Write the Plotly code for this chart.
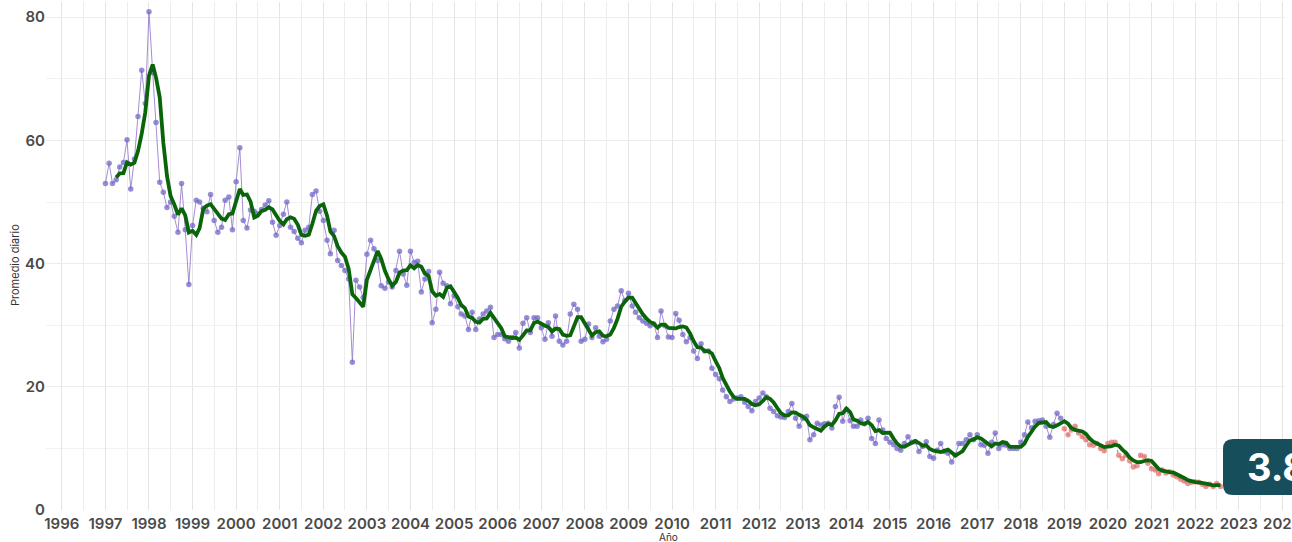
import pandas as pd
import plotly.graph_objects as go

# ---- data (monthly daily-average values) ----
start_purple = "1997-01-01"
start_red = "2019-01-01"

purple_1997_2001 = [
    53.0, 56.3, 53.0, 53.6, 55.7, 56.4, 60.1, 52.1, 57.0, 63.9, 71.4, 66.0,
    80.9, 71.0, 62.9, 53.2, 51.6, 49.1, 50.0, 47.7, 45.1, 53.0, 45.5, 36.6,
    46.2, 50.3, 50.0, 49.0, 48.4, 51.2, 47.0, 45.1, 45.9, 50.3, 50.8, 45.5,
    53.3, 58.8, 47.0, 45.8, 48.7, 48.5, 48.1, 48.8, 49.5, 50.2, 46.7, 44.6,
    46.2, 48.0, 50.0, 45.9, 45.2, 44.1, 43.4, 45.4, 45.9, 51.2, 51.8, 48.5,
]
purple_2002_2006 = [
    47.0, 43.8, 41.6, 45.4, 40.5, 39.7, 38.9, 37.5, 24.0, 37.3, 36.2, 34.5,
    41.5, 43.8, 42.4, 40.5, 36.4, 36.0, 37.0, 36.2, 38.9, 42.0, 38.3, 36.5,
    42.0, 40.2, 40.4, 35.4, 37.5, 38.7, 30.4, 32.6, 38.6, 36.8, 36.4, 33.5,
    34.8, 33.0, 31.8, 31.5, 29.3, 32.1, 29.3, 31.0, 31.8, 32.3, 32.9, 28.0,
    28.5, 28.5, 27.8, 27.4, 28.0, 28.8, 26.3, 30.3, 31.2, 28.8, 31.2, 31.2,
]
purple_2007_2011 = [
    29.6, 27.7, 30.4, 28.2, 31.5, 27.4, 26.8, 27.4, 31.8, 33.4, 32.6, 27.4,
    27.7, 30.2, 28.0, 29.6, 28.2, 27.3, 27.7, 30.7, 32.6, 33.1, 35.6, 34.0,
    35.2, 33.1, 32.1, 31.2, 30.7, 30.3, 29.9, 30.2, 28.0, 32.3, 29.9, 28.1,
    28.0, 31.9, 30.8, 28.5, 27.3, 28.0, 25.8, 24.6, 27.0, 25.8, 25.8, 23.0,
    22.0, 21.3, 19.5, 18.4, 17.6, 18.0, 18.2, 18.4, 17.5, 16.8, 16.1, 17.6,
]
purple_2012_2016 = [
    18.2, 19.0, 18.4, 16.5, 16.0, 15.3, 15.1, 15.0, 16.0, 17.3, 14.9, 13.6,
    14.9, 15.2, 11.4, 12.2, 14.1, 13.8, 14.0, 14.1, 13.3, 16.8, 18.3, 14.4,
    16.3, 14.5, 13.6, 13.6, 14.6, 14.0, 14.9, 11.6, 10.8, 14.6, 13.0, 11.6,
    11.0, 10.6, 10.0, 9.7, 10.8, 11.9, 11.0, 11.1, 9.5, 10.3, 11.1, 8.7,
    8.4, 9.7, 10.8, 9.5, 9.2, 7.8, 8.9, 10.8, 10.8, 11.4, 12.2, 11.4,
]
purple_2017_2018 = [
    12.2, 10.6, 10.5, 9.2, 11.0, 12.5, 10.0, 10.6, 10.5, 10.0, 10.0, 10.0,
    11.0, 12.2, 14.3, 13.3, 14.4, 14.5, 14.6, 13.6, 11.8, 13.9, 15.7, 14.9,
]
red_2019_2022 = [
    13.2, 12.2, 13.0, 13.6, 12.5, 11.9, 11.4, 10.6, 10.5, 10.8, 10.0, 9.6,
    10.8, 11.0, 11.0, 8.9, 8.3, 8.9, 8.0, 7.0, 7.2, 8.9, 8.7, 7.6,
    6.7, 6.5, 5.9, 6.5, 6.0, 6.2, 5.7, 5.4, 5.0, 4.7, 4.3, 4.5,
    4.6, 4.5, 4.2, 3.8, 4.2, 3.8, 4.3, 3.8,
]
year_ticks_start = "1996-01-01"
last_label = "3.8"
y_title = "Promedio diario"
x_title = "Año"
smooth_window = 4

purple_vals = (purple_1997_2001 + purple_2002_2006 + purple_2007_2011
               + purple_2012_2016 + purple_2017_2018)
purple_dates = pd.date_range(start_purple, periods=len(purple_vals), freq="MS")
red_dates = pd.date_range(start_red, periods=len(red_2019_2022), freq="MS")

all_series = pd.concat([pd.Series(purple_vals, index=purple_dates),
                        pd.Series(red_2019_2022, index=red_dates)])
smooth = all_series.rolling(smooth_window).mean().dropna()

# ---- layout geometry (pixels) ----
W, H = 1292, 542
ML, MR, MT, MB = 46, 7, 2, 32
PW, PH = W - ML - MR, H - MT - MB


def px(xp):
    return (xp - ML) / PW


def py(yp):
    return (H - MB - yp) / PH


fig = go.Figure()
fig.add_trace(go.Scatter(
    x=purple_dates, y=purple_vals, mode="lines+markers",
    line=dict(color="rgba(150,120,205,0.85)", width=1),
    marker=dict(color="rgba(115,105,200,0.75)", size=5.5),
    showlegend=False, hoverinfo="skip"))
fig.add_trace(go.Scatter(
    x=red_dates, y=red_2019_2022, mode="lines+markers",
    line=dict(color="rgba(215,95,95,0.8)", width=1.2, dash="dot"),
    marker=dict(color="rgba(225,115,115,0.75)", size=5.5),
    showlegend=False, hoverinfo="skip"))
fig.add_trace(go.Scatter(
    x=smooth.index, y=smooth.values, mode="lines",
    line=dict(color="#0a650a", width=3.8),
    showlegend=False, hoverinfo="skip"))

# rounded label box (extends past the right edge, as in the reference)
x0, x1, y0, y1, r = 1223, 1345, 439, 495, 10
rx, ry = r / PW, r / PH
X0, X1, Y0, Y1 = px(x0), px(x1), py(y1), py(y0)
path = (f"M {X0+rx},{Y1} L {X1-rx},{Y1} Q {X1},{Y1} {X1},{Y1-ry} "
        f"L {X1},{Y0+ry} Q {X1},{Y0} {X1-rx},{Y0} L {X0+rx},{Y0} "
        f"Q {X0},{Y0} {X0},{Y0+ry} L {X0},{Y1-ry} Q {X0},{Y1} {X0+rx},{Y1} Z")
fig.add_shape(type="path", path=path, xref="paper", yref="paper",
              fillcolor="#164e5b", line=dict(width=0), layer="above")

fig.add_annotation(text=f"<b>{last_label}</b>", xref="paper", yref="paper",
                   x=px(1245), y=py(467), xanchor="left", yanchor="middle",
                   showarrow=False,
                   font=dict(family="Inter, Roboto, sans-serif", size=38, color="white"))
fig.add_annotation(text=y_title, xref="paper", yref="paper",
                   x=px(15), y=py(265), textangle=-90, showarrow=False,
                   xanchor="center", yanchor="middle",
                   font=dict(family="Inter, Roboto, sans-serif", size=11, color="#333"))
fig.add_annotation(text=x_title, xref="paper", yref="paper",
                   x=px(668), y=py(536.5), showarrow=False,
                   xanchor="center", yanchor="middle",
                   font=dict(family="Inter, Roboto, sans-serif", size=10, color="#333"))

tickfont = dict(family="Inter, Roboto, sans-serif", size=15, color="#4a4a4a", weight=600)

fig.update_layout(
    width=W, height=H,
    margin=dict(l=ML, r=MR, t=MT, b=MB, pad=0),
    plot_bgcolor="white", paper_bgcolor="white",
    showlegend=False,
    xaxis=dict(
        type="date",
        range=["1995-08-22", "2024-01-24"],
        tick0=year_ticks_start, dtick="M12", tickformat="%Y",
        showgrid=True, gridcolor="#e4e4e4", gridwidth=1,
        minor=dict(dtick="M6", showgrid=True, gridcolor="#ededed", gridwidth=1),
        zeroline=False, showline=False, ticks="",
        tickfont=tickfont, automargin=False,
        ticklabeloverflow="allow", ticklabelstandoff=3,
    ),
    yaxis=dict(
        range=[0, 82.47],
        tick0=0, dtick=20,
        showgrid=True, gridcolor="#ececec", gridwidth=1,
        minor=dict(dtick=10, showgrid=True, gridcolor="#f2f2f2", gridwidth=1),
        zeroline=False, showline=False, ticks="",
        tickfont=tickfont, automargin=False,
    ),
)

fig.write_html(
    "out.html",
    config={"displayModeBar": False},
    post_script="document.body.style.margin='0px';document.documentElement.style.margin='0px';",
)
